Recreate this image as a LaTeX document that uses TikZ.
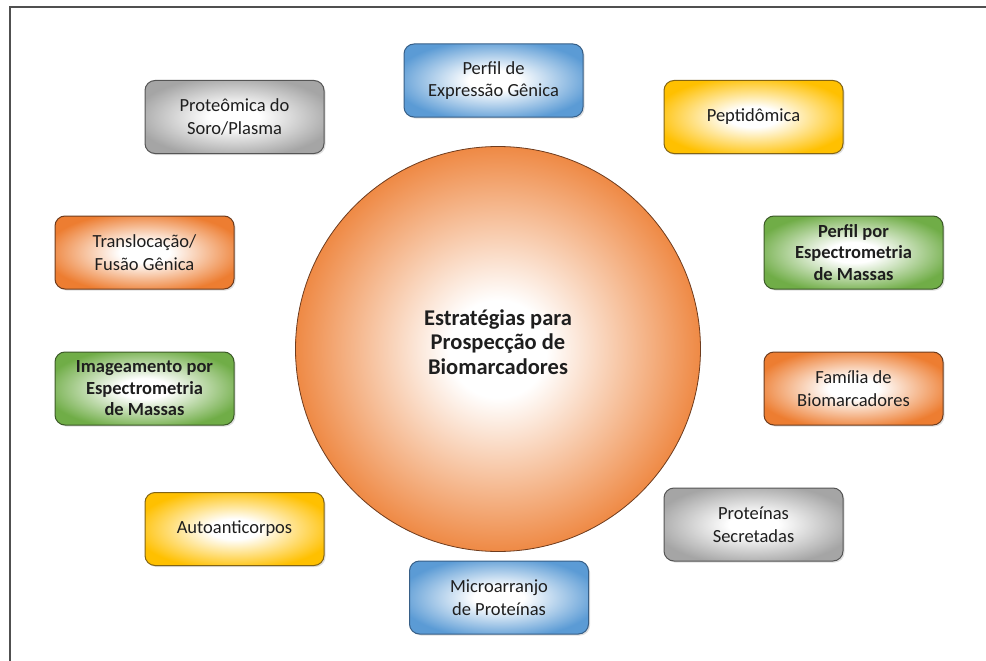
\documentclass[tikz,border=0pt]{standalone}
\usepackage{fontspec}
\setmainfont{Carlito}
\usetikzlibrary{shadows}
\definecolor{fillblue}{RGB}{91,155,213}
\definecolor{lineblue}{RGB}{55,95,135}
\definecolor{fillyellow}{RGB}{255,192,0}
\definecolor{lineyellow}{RGB}{130,100,20}
\definecolor{fillgray}{RGB}{165,165,165}
\definecolor{linegray}{RGB}{85,85,85}
\definecolor{fillorange}{RGB}{237,125,49}
\definecolor{lineorange}{RGB}{110,60,30}
\definecolor{fillgreen}{RGB}{112,173,71}
\definecolor{linegreen}{RGB}{60,90,40}
\definecolor{framegray}{RGB}{80,80,80}
\definecolor{textdark}{RGB}{30,30,30}
% glow shadings: white core fading to the given colour towards the rim
\newcommand\declareglow[2]{%
  \pgfdeclareradialshading{#1}{\pgfpoint{0bp}{0bp}}{%
    color(0bp)=(white); color(7bp)=(white); color(28bp)=(#2); color(50bp)=(#2)}}
\declareglow{glowblue}{fillblue}
\declareglow{glowyellow}{fillyellow}
\declareglow{glowgray}{fillgray}
\declareglow{gloworange}{fillorange}
\declareglow{glowgreen}{fillgreen}
\pgfdeclareradialshading{hubglow}{\pgfpoint{0bp}{0bp}}{%
  color(0bp)=(white); color(6bp)=(white); color(27bp)=(fillorange); color(50bp)=(fillorange)}
\begin{document}
\begin{tikzpicture}[x=1pt,y=-1pt,
  box/.style={rectangle, rounded corners=10pt, minimum width=179pt, minimum height=73pt,
    align=center, inner sep=0pt, line width=1pt, text=textdark,
    font=\fontsize{18.5}{22.5}\selectfont,
    drop shadow={opacity=0.25, shadow xshift=1.5pt, shadow yshift=-1.5pt}},
  bluebox/.style={box, shading=glowblue, draw=lineblue},
  yellowbox/.style={box, shading=glowyellow, draw=lineyellow},
  graybox/.style={box, shading=glowgray, draw=linegray},
  orangebox/.style={box, shading=gloworange, draw=lineorange},
  greenbox/.style={box, shading=glowgreen, draw=linegreen,
    font=\fontsize{18.5}{21.5}\selectfont\bfseries},
  hub/.style={circle, minimum size=405pt, inner sep=0pt, line width=0.8pt, draw=lineorange,
    shading=hubglow},
  hubtext/.style={align=center, text=textdark, inner sep=0pt,
    font=\fontsize{22.5}{24.5}\selectfont\bfseries}
]
\useasboundingbox (0,0) rectangle (986,661);
\fill[white] (0,0) rectangle (986,661);

% partial frame along the top and left
\draw[line width=2pt, framegray] (9.5,661) -- (9.5,7.5) -- (986,7.5);

% central strategy circle and its title
\node[hub] (hub) at (498,349) {};
\node[hubtext, yshift=7pt] (hubtitle) at (hub.center) {Estratégias para\\Prospecção de\\Biomarcadores};

% surrounding strategy boxes
\node[bluebox]   (expr)   at (493.5,80.5)  {Perfil de\\Expressão Gênica};
\node[yellowbox] (pept)   at (753.5,117)   {Peptidômica};
\node[graybox]   (soro)   at (234.5,117)   {Proteômica do\\Soro/Plasma};
\node[orangebox] (transl) at (144.5,252.5) {Translocação/\\Fusão Gênica};
\node[greenbox]  (perfms) at (853.5,252.5) {Perfil por\\Espectrometria\\de Massas};
\node[greenbox]  (imgms)  at (144.5,388.5) {Imageamento por\\Espectrometria\\de Massas};
\node[orangebox] (fam)    at (853.5,388.5) {Família de\\Biomarcadores};
\node[yellowbox] (auto)   at (234.5,529)   {Autoanticorpos};
\node[graybox]   (secr)   at (753.5,524.5) {Proteínas\\Secretadas};
\node[bluebox]   (micro)  at (499,597.5)   {Microarranjo\\de Proteínas};
\end{tikzpicture}
\end{document}
